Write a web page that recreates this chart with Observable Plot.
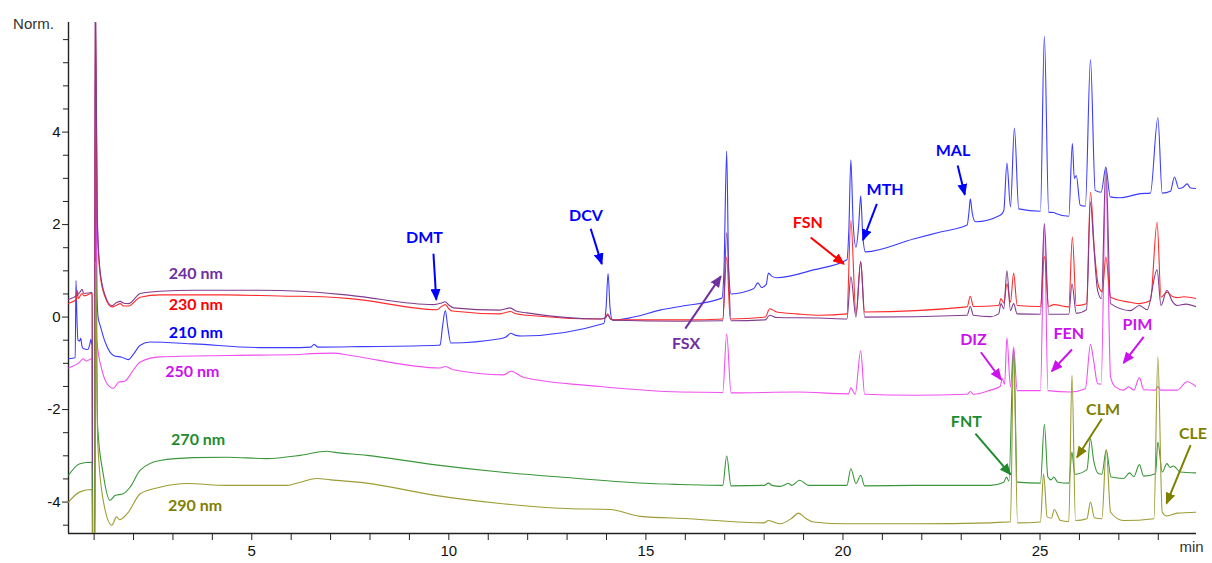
<!DOCTYPE html>
<html>
<head>
<meta charset="utf-8">
<script src="https://cdn.jsdelivr.net/npm/d3@7"></script>
<script src="https://cdn.jsdelivr.net/npm/@observablehq/plot@0.6"></script>
<style>
  html, body { margin: 0; padding: 0; background: #fff; }
  #chart svg { display: block; }
</style>
</head>
<body>
<div id="chart"></div>
<script>
// ---------- DATA ----------
// [retention time (min), normalised signal]
const trace210 = [
  [0.35,-0.90],[0.52,-0.88],[0.54,0.79],[0.56,0.10],[0.59,-0.50],[0.63,-0.52],[0.66,-0.46],[0.69,-0.62],
  [0.72,-0.68],[0.84,-0.70],[0.90,-0.55],[0.92,-0.48],[0.94,-0.58],[0.95,-0.60],[0.965,-6],[1.01,-6],
  [1.03,6.5],[1.07,0.60],[1.10,0.00],[1.16,-0.20],[1.28,-0.54],[1.49,-0.83],[1.70,-0.87],[1.87,-0.92],
  [2.00,-0.80],[2.17,-0.61],[2.42,-0.54],[3.52,-0.58],[5.21,-0.66],[6.23,-0.66],[6.50,-0.65],[6.58,-0.59],
  [6.68,-0.65],[7.75,-0.64],[9.74,-0.61],[9.78,-0.60],[9.84,-0.20],[9.91,0.14],[9.97,-0.20],[10.05,-0.56],
  [11.30,-0.47],[11.45,-0.43],[11.57,-0.35],[11.68,-0.39],[11.85,-0.41],[13.93,-0.14],[13.99,0.20],
  [14.04,0.94],[14.09,0.20],[14.15,-0.07],[14.69,0.00],[15.36,0.15],[15.87,0.23],[16.93,0.41],[16.98,1.00],
  [17.05,3.59],[17.10,1.00],[17.16,0.50],[17.73,0.61],[17.84,0.74],[17.94,0.64],[18.05,0.70],[18.11,0.95],
  [18.20,0.88],[18.32,0.85],[19.25,1.02],[20.10,1.24],[20.15,1.90],[20.20,3.40],[20.26,2.00],[20.33,1.51],
  [20.40,2.00],[20.45,2.62],[20.50,1.80],[20.57,1.41],[21.79,1.69],[22.47,1.84],[23.15,1.99],[23.20,2.30],
  [23.23,2.56],[23.28,2.25],[23.36,2.06],[23.99,2.20],[24.08,2.30],[24.16,3.33],[24.25,2.38],[24.35,4.09],
  [24.46,2.34],[25.01,2.29],[25.11,6.07],[25.22,2.27],[25.35,2.26],[25.40,2.24],[25.73,2.18],[25.82,3.75],
  [25.87,3.00],[25.92,3.06],[26.02,2.42],[26.15,2.40],[26.28,5.57],[26.40,2.74],[26.55,2.70],[26.67,3.24],
  [26.78,2.60],[27.04,2.58],[27.55,2.67],[27.80,2.68],[27.99,4.31],[28.10,2.68],[28.31,2.72],[28.41,3.03],
  [28.52,2.78],[28.62,2.80],[28.73,2.88],[28.82,2.79],[28.97,2.78]
];
const trace230 = [
  [0.35,0.30],[0.55,0.38],[0.57,0.58],[0.60,0.40],[0.69,0.51],[0.74,0.46],[0.94,0.51],[0.95,0.50],
  [0.965,-6],[1.01,-6],[1.03,7],[1.08,2.00],[1.15,0.94],[1.28,0.43],[1.45,0.22],[1.58,0.26],[1.66,0.29],
  [1.75,0.24],[1.87,0.24],[2.17,0.43],[2.67,0.48],[4.37,0.48],[6.06,0.45],[6.23,0.45],[7.50,0.40],
  [9.70,0.16],[9.80,0.22],[9.91,0.27],[10.00,0.18],[10.08,0.13],[11.30,0.07],[11.45,0.10],[11.56,0.12],
  [11.70,0.07],[11.98,0.04],[13.84,-0.04],[13.97,-0.02],[14.03,0.07],[14.10,-0.03],[14.18,-0.06],
  [16.08,-0.06],[16.95,-0.04],[17.05,1.30],[17.14,-0.04],[18.03,0.00],[18.14,0.18],[18.32,0.11],
  [18.83,0.07],[19.42,0.04],[20.10,0.07],[20.20,2.09],[20.33,0.07],[20.45,1.20],[20.55,0.11],[23.15,0.22],
  [23.23,0.45],[23.31,0.23],[23.95,0.25],[24.01,0.40],[24.08,0.30],[24.16,0.72],[24.25,0.32],[24.33,0.95],
  [24.42,0.25],[25.01,0.23],[25.11,1.31],[25.22,0.23],[25.35,0.27],[25.73,0.22],[25.82,1.73],[25.92,0.25],
  [26.18,0.29],[26.28,2.70],[26.38,1.44],[26.49,0.65],[26.58,0.55],[26.67,1.30],[26.79,0.43],[27.29,0.32],
  [27.52,0.29],[27.80,0.36],[27.97,2.05],[28.07,0.43],[28.22,0.54],[28.35,0.45],[28.48,0.42],[28.65,0.44],
  [28.97,0.40]
];
const trace240 = [
  [0.35,0.38],[0.56,0.47],[0.65,0.55],[0.69,0.60],[0.74,0.51],[0.94,0.53],[0.95,0.53],[0.965,-6],[1.01,-6],
  [1.03,7.5],[1.08,2.20],[1.15,1.01],[1.28,0.47],[1.45,0.25],[1.58,0.32],[1.66,0.34],[1.75,0.30],[1.87,0.29],
  [2.17,0.51],[2.67,0.56],[3.52,0.58],[5.21,0.58],[6.23,0.56],[7.50,0.47],[9.61,0.27],[9.80,0.30],[9.91,0.33],
  [10.00,0.26],[10.12,0.20],[11.30,0.15],[11.45,0.18],[11.56,0.20],[11.70,0.13],[11.98,0.09],[13.84,-0.04],
  [13.96,-0.02],[14.03,0.04],[14.10,-0.04],[14.26,-0.07],[15.87,-0.09],[16.95,-0.08],[17.05,1.82],[17.16,-0.08],
  [18.03,-0.06],[18.14,0.04],[18.32,-0.01],[19.42,-0.02],[20.10,-0.04],[20.20,0.87],[20.33,0.00],[20.45,1.20],
  [20.55,0.00],[23.15,0.04],[23.23,0.23],[23.31,0.04],[23.74,0.01],[23.95,0.07],[24.01,0.29],[24.08,0.18],
  [24.16,1.00],[24.25,0.14],[24.33,0.29],[24.42,0.07],[25.01,0.06],[25.11,2.02],[25.22,0.06],[25.73,0.06],
  [25.81,0.72],[25.92,0.08],[26.18,0.16],[26.28,2.49],[26.36,1.59],[26.46,0.58],[26.56,0.40],[26.67,3.25],
  [26.79,0.29],[27.29,0.14],[27.52,0.25],[27.72,0.16],[27.97,1.02],[28.07,0.25],[28.22,0.58],[28.35,0.35],
  [28.48,0.25],[28.70,0.28],[28.97,0.22]
];
const trace250 = [
  [0.35,-1.10],[0.64,-0.97],[0.72,-0.90],[0.80,-0.95],[0.94,-0.90],[0.95,-0.90],[0.965,-6],[1.01,-6],
  [1.03,5],[1.07,-0.50],[1.20,-1.15],[1.40,-1.51],[1.49,-1.54],[1.62,-1.41],[1.79,-1.38],[1.96,-1.19],
  [2.17,-0.97],[2.67,-0.86],[4.37,-0.83],[6.23,-0.81],[6.48,-0.79],[7.07,-0.78],[7.50,-0.83],[9.78,-1.10],
  [9.91,-1.07],[10.12,-1.14],[11.39,-1.25],[11.58,-1.17],[11.89,-1.30],[13.84,-1.50],[15.87,-1.62],
  [16.95,-1.63],[17.05,-0.36],[17.16,-1.64],[18.83,-1.62],[20.14,-1.66],[20.20,-1.53],[20.31,-1.67],
  [20.45,-0.73],[20.55,-1.67],[21.79,-1.69],[23.15,-1.67],[23.23,-1.61],[23.31,-1.67],[23.74,-1.58],
  [23.99,-1.50],[24.04,-1.33],[24.10,-1.45],[24.16,-0.45],[24.25,-1.51],[24.33,-0.65],[24.42,-1.59],
  [25.01,-1.59],[25.11,2.00],[25.20,-1.59],[25.77,-1.62],[26.15,-1.55],[26.28,-0.59],[26.36,-0.94],
  [26.46,-1.44],[26.55,-1.45],[26.67,3.00],[26.79,-1.30],[26.91,-1.51],[27.12,-1.58],[27.25,-1.51],
  [27.38,-1.58],[27.52,-1.31],[27.63,-1.57],[27.93,-1.58],[27.99,-1.50],[28.06,-1.58],[28.48,-1.58],
  [28.73,-1.40],[28.97,-1.51]
];
const trace270 = [
  [0.35,-3.42],[0.64,-3.17],[0.94,-3.14],[0.95,-3.14],[0.965,-6],[1.01,-6],[1.035,1.5],[1.09,-2.38],
  [1.23,-3.39],[1.40,-3.96],[1.53,-3.86],[1.74,-3.82],[1.91,-3.68],[2.17,-3.31],[2.67,-3.10],[3.52,-3.04],
  [4.37,-3.03],[5.38,-3.06],[6.23,-2.99],[6.90,-2.90],[7.07,-2.92],[7.92,-2.99],[9.61,-3.19],[11.30,-3.35],
  [12.99,-3.47],[15.11,-3.60],[15.87,-3.62],[16.95,-3.64],[17.05,-3.00],[17.16,-3.65],[18.00,-3.64],
  [18.11,-3.59],[18.20,-3.64],[18.41,-3.66],[18.62,-3.60],[18.70,-3.64],[18.90,-3.53],[19.13,-3.64],
  [20.10,-3.64],[20.20,-3.28],[20.33,-3.60],[20.45,-3.42],[20.55,-3.65],[21.79,-3.64],[23.74,-3.64],
  [24.08,-3.57],[24.15,-3.46],[24.21,-3.55],[24.33,-0.70],[24.42,-3.57],[25.01,-3.59],[25.11,-2.32],
  [25.20,-3.46],[25.28,-3.52],[25.35,-3.46],[25.45,-3.57],[25.73,-3.59],[25.81,-2.92],[25.88,-3.40],
  [26.19,-3.30],[26.28,-2.63],[26.36,-3.10],[26.49,-3.39],[26.57,-3.40],[26.68,-2.87],[26.80,-3.46],
  [27.12,-3.49],[27.27,-3.37],[27.38,-3.45],[27.52,-3.19],[27.63,-3.44],[27.93,-3.39],[27.99,-2.70],
  [28.10,-3.35],[28.22,-3.17],[28.30,-3.25],[28.38,-3.22],[28.56,-3.35],[28.97,-3.37]
];
const trace290 = [
  [0.35,-4.00],[0.64,-3.78],[0.94,-3.73],[0.95,-3.73],[0.965,-6],[1.01,-6],[1.035,1.2],[1.09,-2.67],
  [1.23,-3.96],[1.45,-4.50],[1.57,-4.32],[1.65,-4.38],[1.74,-4.34],[1.87,-4.22],[2.17,-3.82],[2.67,-3.68],
  [3.35,-3.60],[4.37,-3.64],[5.89,-3.64],[6.23,-3.57],[6.65,-3.49],[7.00,-3.52],[7.92,-3.59],[9.61,-3.85],
  [11.30,-4.03],[12.99,-4.14],[14.09,-4.16],[14.86,-4.31],[16.08,-4.36],[17.99,-4.45],[18.11,-4.40],
  [18.41,-4.47],[18.70,-4.35],[18.87,-4.24],[19.05,-4.35],[19.25,-4.43],[20.10,-4.47],[21.79,-4.47],
  [23.74,-4.45],[24.21,-4.43],[24.25,-4.43],[24.33,-0.75],[24.43,-4.45],[25.01,-4.43],[25.09,-3.39],
  [25.18,-4.32],[25.29,-4.35],[25.36,-4.16],[25.52,-4.40],[25.73,-4.42],[25.81,-1.26],[25.90,-4.40],
  [26.19,-4.36],[26.28,-4.00],[26.38,-4.34],[26.57,-4.36],[26.68,-2.87],[26.79,-4.22],[27.12,-4.40],
  [27.89,-4.36],[27.99,-0.86],[28.10,-4.22],[28.22,-4.30],[28.48,-4.24],[28.97,-4.22]
];

// series names, in drawing order
const seriesNames = ["210 nm", "250 nm", "230 nm", "240 nm", "270 nm", "290 nm"];
const seriesData  = [trace210, trace250, trace230, trace240, trace270, trace290];

// in-plot series labels
const seriesLabelNames = ["240 nm", "230 nm", "210 nm", "250 nm", "270 nm", "290 nm"];
const seriesLabelT = [3.58, 3.58, 3.58, 3.49, 3.64, 3.56];
const seriesLabelV = [0.94, 0.27, -0.34, -1.18, -2.66, -4.08];

// compound annotations
const annotLabels = ["DMT","DCV","FSX","FSN","MTH","MAL","DIZ","FEN","PIM","FNT","CLM","CLE"];
const annotSeries = ["210 nm","210 nm","240 nm","230 nm","210 nm","210 nm","250 nm","250 nm","250 nm","270 nm","290 nm","290 nm"];
const annotTextT  = [9.38, 13.48, 16.02, 19.11, 21.07, 22.79, 23.31, 25.73, 27.47, 23.13, 26.60, 28.88];
const annotTextV  = [1.72, 2.18, -0.58, 2.03, 2.74, 3.60, -0.50, -0.37, -0.16, -2.27, -2.00, -2.52];
const arrowFromT  = [9.61, 13.60, 16.00, 19.18, 20.86, 22.91, 23.50, 25.81, 27.63, 23.36, 26.57, 28.82];
const arrowFromV  = [1.37, 1.91, -0.25, 1.72, 2.45, 3.28, -0.76, -0.70, -0.43, -2.52, -2.20, -2.77];
const arrowToT    = [9.68, 13.88, 16.90, 20.02, 20.51, 23.09, 24.01, 25.30, 27.12, 24.25, 25.94, 28.21];
const arrowToV    = [0.38, 1.15, 0.88, 1.15, 1.67, 2.65, -1.35, -1.17, -0.99, -3.40, -3.03, -4.03];

// axes
const xDomain = [0.35, 28.97];
const yDomain = [-4.68, 6.37];
const xTicks = d3.range(1, 29);
const yMajorTicks = [-4, -2, 0, 2, 4];
const yMinorTicks = [-4.5,-3.5,-3,-2.5,-1.5,-1,-0.5,0.5,1,1.5,2.5,3,3.5,4.5,5,5.5,6];

// ---------- STYLE ----------
const lineColor = {
  "210 nm": "#3c3cff", "230 nm": "#ff2b2b", "240 nm": "#803c8e",
  "250 nm": "#f050f0", "270 nm": "#3a963a", "290 nm": "#9c9c34"
};
const textColor = {
  "210 nm": "#0000ff", "230 nm": "#ff0000", "240 nm": "#7030a0",
  "250 nm": "#cc11ee", "270 nm": "#1e8c2e", "290 nm": "#808000"
};
const labelFont = "Lato, 'Open Sans', sans-serif";
const tickFont = "'Liberation Sans', Arial, sans-serif";

// ---------- BUILD TABLES ----------
const rows = seriesNames.flatMap((name, i) =>
  seriesData[i].map(([t, v]) => ({series: name, t, v, color: lineColor[name]})));
const seriesLabels = seriesLabelNames.map((name, i) =>
  ({text: name, t: seriesLabelT[i], v: seriesLabelV[i], color: textColor[name]}));
const annots = annotLabels.map((text, i) => ({
  text, color: textColor[annotSeries[i]],
  t: annotTextT[i], v: annotTextV[i],
  x1: arrowFromT[i], y1: arrowFromV[i], x2: arrowToT[i], y2: arrowToV[i]
}));

function arrowHead(color, context) {
  const doc = (context && context.document) || document;
  const ns = "http://www.w3.org/2000/svg";
  const m = doc.createElementNS(ns, "marker");
  m.setAttribute("viewBox", "0 -5 12 10");
  m.setAttribute("refX", "10.5");
  m.setAttribute("refY", "0");
  m.setAttribute("markerUnits", "userSpaceOnUse");
  m.setAttribute("markerWidth", "12");
  m.setAttribute("markerHeight", "10");
  m.setAttribute("orient", "auto");
  const p = doc.createElementNS(ns, "path");
  p.setAttribute("d", "M0,-5L12,0L0,5Z");
  p.setAttribute("fill", color);
  m.appendChild(p);
  return m;
}

function build(marker) {
  return Plot.plot({
    width: 1212,
    height: 563,
    marginLeft: 68,
    marginRight: 16,
    marginTop: 22,
    marginBottom: 30,
    style: {background: "#fff", fontFamily: tickFont, fontSize: "15px", overflow: "visible"},
    x: {domain: xDomain},
    y: {domain: yDomain},
    color: {type: "identity"},
    marks: [
      Plot.axisX(xTicks, {tickSize: 7, tickPadding: 5, stroke: "#222", fill: "#111", fontSize: 15,
        fontFamily: tickFont, tickFormat: d => (d % 5 === 0 ? String(d) : ""), label: null}),
      Plot.axisY(yMinorTicks, {tickSize: 5, stroke: "#222", tickFormat: () => "", label: null}),
      Plot.axisY(yMajorTicks, {tickSize: 6, tickPadding: 2, stroke: "#222", fill: "#111", fontSize: 15,
        fontFamily: tickFont, tickFormat: d => String(d), label: null}),
      Plot.ruleY([yDomain[0]], {stroke: "#222", strokeWidth: 1.4}),
      Plot.ruleX([xDomain[0]], {stroke: "#222", strokeWidth: 1.4}),
      Plot.line(rows, {x: "t", y: "v", z: "series", stroke: "color", strokeWidth: 1.1,
        curve: "monotone-x", clip: true}),
      Plot.text(seriesLabels, {x: "t", y: "v", text: "text", fill: "color", fontSize: 16,
        fontWeight: "bold", fontFamily: labelFont}),
      Plot.link(annots, {x1: "x1", y1: "y1", x2: "x2", y2: "y2", stroke: "color", strokeWidth: 2,
        markerEnd: marker}),
      Plot.text(annots, {x: "t", y: "v", text: "text", fill: "color", fontSize: 16,
        fontWeight: "bold", fontFamily: labelFont}),
      Plot.text(["Norm."], {frameAnchor: "top-left", textAnchor: "middle", text: d => d, dx: -35, dy: -4,
        fontSize: 15, fill: "#333", fontFamily: tickFont}),
      Plot.text(["min"], {frameAnchor: "bottom-right", textAnchor: "middle", text: d => d, dx: -5, dy: 18,
        fontSize: 15, fill: "#333", fontFamily: tickFont})
    ]
  });
}

let chart;
try { chart = build(arrowHead); } catch (e) { chart = build("arrow"); }
document.getElementById("chart").append(chart);
</script>
</body>
</html>
